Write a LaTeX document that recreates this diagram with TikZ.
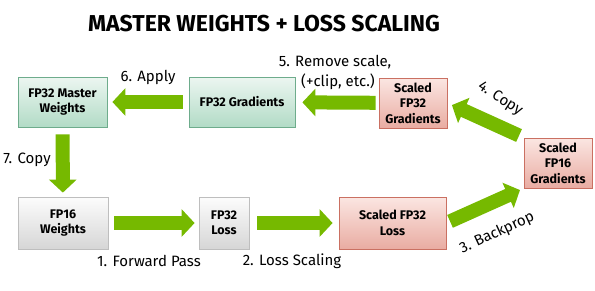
\documentclass[tikz,border=0pt]{standalone}
\usepackage{fontspec}
\setmainfont{Fira Sans}
\usepackage{tikz}
\usetikzlibrary{arrows.meta, shadows}
\definecolor{nvgreen}{RGB}{118,185,0}
\definecolor{greentop}{RGB}{236,246,241}
\definecolor{greenbot}{RGB}{178,219,198}
\definecolor{greenline}{RGB}{110,172,140}
\definecolor{graytop}{RGB}{252,252,252}
\definecolor{graybot}{RGB}{214,214,214}
\definecolor{grayline}{RGB}{190,190,190}
\definecolor{redtop}{RGB}{251,230,226}
\definecolor{redbot}{RGB}{233,172,162}
\definecolor{redline}{RGB}{202,112,98}

\begin{document}
\begin{tikzpicture}[x=1pt, y=-1pt,
    box/.style={draw, thick, inner sep=0pt, align=center, font=\fontsize{12.5}{15.5}\selectfont\bfseries,
                drop shadow={shadow xshift=0.8pt, shadow yshift=-1.2pt, opacity=0.25}},
    greenbox/.style={box, draw=greenline, top color=greentop, bottom color=greenbot},
    graybox/.style={box, draw=grayline, top color=graytop, bottom color=graybot},
    redbox/.style={box, draw=redline, top color=redtop, bottom color=redbot},
    flow/.style={nvgreen, line width=14pt, -{Triangle[length=13pt, width=27pt]}},
    lbl/.style={font=\fontsize{15}{17}\selectfont}]
  \useasboundingbox (0,0) rectangle (595,290);

  % Title
  \node[font=\fontsize{23}{26}\selectfont\bfseries] (title) at (264,24) {MASTER WEIGHTS + LOSS SCALING};

  % Boxes
  \node[greenbox, minimum width=89pt, minimum height=50pt] (mw) at (62.5,102) {FP32 Master\\Weights};
  \node[greenbox, minimum width=106pt, minimum height=50pt] (g32) at (242,102) {FP32 Gradients};
  \node[redbox, minimum width=68pt, minimum height=50pt] (sg32) at (413,103) {Scaled\\FP32\\Gradients};
  \node[redbox, minimum width=68pt, minimum height=50pt] (sf16) at (558,163) {Scaled\\FP16\\Gradients};
  \node[graybox, minimum width=90pt, minimum height=52pt] (w16) at (63,223) {FP16\\Weights};
  \node[graybox, minimum width=50pt, minimum height=52pt] (l32) at (224,223) {FP32\\Loss};
  \node[redbox, minimum width=107pt, minimum height=52pt] (sl32) at (392.5,223) {Scaled FP32\\Loss};

  % Arrows
  \draw[flow, shorten <=6pt, shorten >=4pt] (w16) -- (l32);
  \draw[flow, shorten <=8pt, shorten >=6pt] (l32) -- (sl32);
  \draw[flow, shorten <=4pt, shorten >=4pt] (sl32.east) -- (sf16.south west);
  \draw[flow, shorten <=5pt, shorten >=5pt] (sf16.north west) -- (sg32.east);
  \draw[flow, shorten <=3pt, shorten >=7pt] (sg32) -- (g32);
  \draw[flow, shorten <=6pt, shorten >=5pt] (g32) -- (mw);
  \draw[flow, shorten <=7pt, shorten >=4pt] (mw) -- (w16);

  % Labels
  \node[lbl, rotate=25] (bwd) at (497,233) {3. Backprop};
  \node[lbl, rotate=-33] (cp4) at (500,99) {4. Copy};
  \node[lbl] (fwd) at (149,261) {1. Forward Pass};
  \node[lbl] (scl) at (292,261) {2. Loss Scaling};
  \node[lbl] (rm1) at (335,62) {5. Remove scale,};
  \node[lbl] (rm2) at (338,82) {(+clip, etc.)};
  \node[lbl] (app) at (148,77) {6. Apply};
  \node[lbl] (cp7) at (27,160) {7. Copy};
\end{tikzpicture}
\end{document}
